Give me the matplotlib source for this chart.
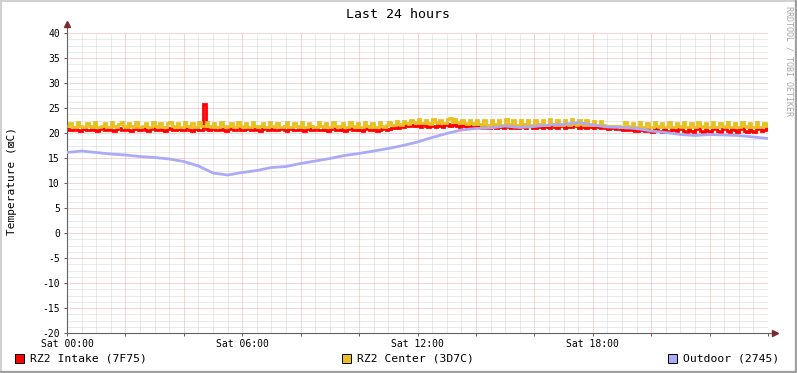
import numpy as np
import matplotlib
matplotlib.use("Agg")
import matplotlib.pyplot as plt
from matplotlib.patches import Rectangle
from matplotlib.lines import Line2D

# ========================
# === DATI ===============
# ========================

# campioni ogni 5 minuti, 24 per riga = 2 ore
intake = [
    20.9, 20.6, 20.6, 21.0, 20.7, 20.5, 20.8, 21.0, 20.6, 20.6, 20.9, 20.7, 20.5, 20.8, 21.0, 20.7, 20.6, 20.9, 20.6, 20.5, 20.8, 21.0, 20.6, 20.7,
    20.9, 20.6, 20.5, 20.9, 21.0, 20.6, 20.7, 21.0, 20.6, 20.5, 20.8, 21.0, 20.7, 20.6, 20.9, 20.6, 20.5, 20.8, 21.0, 20.7, 20.6, 20.9, 21.0, 20.6,
    20.7, 21.0, 20.6, 20.5, 20.9, 21.0, 20.7, 20.6, 25.8, 20.9, 20.6, 20.8, 21.0, 20.6, 20.6, 20.9, 20.7, 20.5, 20.8, 21.0, 20.6, 20.7, 21.0, 20.6,
    20.6, 20.9, 21.0, 20.6, 20.7, 20.9, 20.6, 20.5, 20.8, 21.0, 20.7, 20.6, 20.9, 20.6, 20.6, 20.9, 21.0, 20.6, 20.5, 20.8, 21.0, 20.7, 20.6, 20.9,
    20.6, 20.5, 20.9, 21.0, 20.6, 20.7, 21.0, 20.6, 20.6, 20.9, 20.7, 20.5, 20.8, 21.0, 20.6, 20.7, 20.9, 20.6, 20.5, 20.8, 21.0, 20.7, 20.6, 20.9,
    20.6, 20.5, 20.9, 21.0, 20.6, 20.7, 20.9, 20.5, 20.6, 20.9, 21.0, 20.7, 20.8, 21.1, 21.0, 21.2, 21.1, 21.4, 21.3, 21.6, 21.4, 21.7, 21.5, 21.4,
    21.6, 21.3, 21.8, 21.5, 21.2, 21.7, 21.4, 21.3, 21.8, 21.5, 21.3, 21.7, 21.9, 21.4, 21.6, 21.8, 21.5, 21.3, 21.7, 21.4, 21.2, 21.6, 21.3, 21.2,
    21.6, 21.2, 21.0, 21.5, 21.1, 21.0, 21.6, 21.2, 21.0, 21.5, 21.3, 21.0, 21.6, 21.2, 21.1, 21.5, 21.0, 21.1, 21.6, 21.3, 21.0, 21.4, 21.5, 21.1,
    21.0, 21.6, 21.2, 21.1, 21.5, 21.3, 21.0, 21.6, 21.2, 21.1, 21.5, 21.4, 21.1, 21.6, 21.3, 21.2, 21.7, 21.4, 21.1, 21.5, 21.3, 21.1, 21.6, 21.2,
    21.1, 21.5, 21.2, 21.0, 21.4, 21.1, 20.9, 21.3, 21.0, 20.9, 21.2, 20.8, 20.7, 20.7, 20.6, 20.9, 20.6, 20.5, 20.5, 21.0, 20.6, 20.4, 20.9, 20.5,
    20.3, 20.8, 21.1, 20.5, 20.3, 20.9, 20.5, 20.3, 21.0, 20.6, 20.4, 20.9, 21.1, 20.5, 20.3, 20.8, 20.5, 20.3, 20.9, 21.0, 20.5, 20.3, 20.8, 20.5,
    20.3, 20.9, 21.0, 20.4, 20.3, 20.8, 21.1, 20.5, 20.3, 20.9, 20.6, 20.3, 20.8, 21.1, 20.5, 20.3, 20.9, 20.5, 20.3, 20.8, 21.0, 20.4, 20.6, 21.0,
]

center = [
    21.4, 22.1, 21.3, 21.3, 22.2, 21.4, 21.2, 21.3, 22.1, 21.4, 21.3, 22.2, 21.3, 21.2, 21.4, 22.1, 21.3, 21.3, 22.2, 21.4, 21.3, 21.9, 22.2, 21.4,
    21.3, 22.1, 21.4, 21.2, 22.2, 21.3, 21.3, 21.4, 22.1, 21.3, 21.2, 22.2, 21.4, 21.3, 22.0, 21.3, 21.2, 22.1, 22.2, 21.4, 21.3, 22.1, 21.3, 21.2,
    22.2, 21.4, 21.3, 22.1, 21.3, 21.2, 22.2, 21.4, 21.5, 22.3, 21.4, 21.3, 22.1, 21.3, 21.2, 22.2, 21.4, 21.3, 21.4, 22.1, 21.3, 21.2, 22.2, 21.4,
    21.3, 22.1, 21.3, 21.2, 22.2, 21.4, 21.3, 21.4, 22.1, 21.3, 21.2, 22.2, 21.4, 21.3, 22.1, 21.3, 21.2, 21.4, 22.2, 21.3, 21.3, 22.1, 21.4, 21.2,
    22.2, 21.3, 21.3, 22.1, 21.4, 21.2, 21.3, 22.2, 21.4, 21.3, 22.1, 21.3, 21.2, 22.2, 21.4, 21.3, 21.4, 22.1, 21.3, 21.2, 22.2, 21.4, 21.3, 22.1,
    21.3, 21.2, 22.2, 21.4, 21.3, 22.1, 21.3, 21.2, 22.2, 21.4, 21.3, 21.6, 22.3, 21.7, 21.6, 22.4, 21.8, 21.7, 22.5, 22.0, 21.9, 22.7, 22.2, 22.0,
    22.8, 22.1, 22.0, 22.7, 22.1, 21.9, 22.8, 22.2, 22.0, 22.7, 22.1, 22.0, 22.9, 23.1, 22.3, 22.9, 22.2, 22.0, 22.7, 22.1, 21.9, 22.6, 22.0, 21.8,
    22.7, 21.8, 21.6, 22.6, 21.7, 21.6, 22.7, 21.8, 21.6, 22.6, 21.7, 21.6, 22.8, 21.8, 21.6, 22.7, 21.7, 21.6, 22.6, 21.8, 21.6, 22.7, 21.7, 21.6,
    22.6, 21.8, 21.6, 22.7, 21.7, 21.6, 22.8, 21.8, 21.6, 22.6, 21.7, 21.7, 22.7, 21.8, 21.6, 22.8, 21.8, 21.7, 22.7, 21.8, 21.6, 22.6, 21.7, 21.6,
    22.5, 21.7, 21.6, 22.4, 21.6, 21.5, 21.5, 21.5, 21.4, 21.4, 21.4, 21.3, 21.3, 22.2, 21.4, 21.3, 22.1, 21.3, 21.2, 22.2, 21.3, 21.3, 22.1, 21.3,
    21.2, 22.2, 21.4, 21.3, 22.1, 21.3, 21.2, 22.2, 21.3, 21.3, 22.1, 21.4, 21.2, 22.2, 21.3, 21.3, 22.1, 21.3, 21.2, 22.2, 21.4, 21.3, 22.1, 21.3,
    21.2, 22.2, 21.3, 21.3, 22.1, 21.4, 21.2, 22.2, 21.3, 21.3, 22.1, 21.3, 21.2, 22.2, 21.4, 21.3, 22.1, 21.3, 21.2, 22.2, 21.3, 21.3, 22.0, 21.4,
]

# esterno: un valore ogni 30 minuti
outdoor = [16.1, 16.4, 16.1, 15.8, 15.6, 15.3, 15.1, 14.8, 14.3, 13.4,
           12.0, 11.6, 12.1, 12.5, 13.1, 13.3, 13.9, 14.4, 14.9, 15.5,
           15.9, 16.4, 16.9, 17.5, 18.2, 19.1, 19.9, 20.6, 20.9, 21.0,
           21.4, 21.1, 21.3, 21.6, 21.7, 22.1, 21.6, 21.2, 21.1, 20.9,
           20.4, 20.1, 19.7, 19.5, 19.7, 19.6, 19.5, 19.2, 18.9]

xtick_hours = [0, 6, 12, 18]
xtick_labels = ["Sat 00:00", "Sat 06:00", "Sat 12:00", "Sat 18:00"]
yticks = list(range(-20, 41, 5))
legend_labels = ["RZ2 Intake (7F75)", "RZ2 Center (3D7C)", "Outdoor (2745)"]

c_intake = "#FF0000"
c_center = "#E8C020"
c_outdoor = "#AAAAF5"

# ========================
# === FIGURA =============
# ========================

W, H = 797, 373
mono = "DejaVu Sans Mono"
plt.rcParams["font.family"] = mono

fig = plt.figure(figsize=(W / 100, H / 100), dpi=100, facecolor="white")

def fx(px):
    return px / W

def fy(py):
    return 1 - py / H

ax = fig.add_axes([fx(67), fy(333), fx(768) - fx(67), fy(33) - fy(333)])
ax.set_xlim(0, 24)
ax.set_ylim(-20, 40)

# griglia puntinata
gkw = dict(lw=0.72, ls=(0, (1, 1)))
for h in np.arange(0, 24.01, 0.5):
    if h % 2 == 0:
        continue
    ax.axvline(h, color="#D6D6D6", zorder=0, **gkw)
for v in np.arange(-20, 40.01, 1.25):
    if v % 5 == 0:
        continue
    ax.axhline(v, color="#D6D6D6", zorder=0, **gkw)
for h in range(2, 25, 2):
    ax.axvline(h, color="#F0A8A8", zorder=0.5, **gkw)
for v in yticks[1:]:
    ax.axhline(v, color="#F0A8A8", zorder=0.5, **gkw)

# serie
edges = np.arange(len(intake) + 1) * 5 / 60
ax.stairs(intake, edges, baseline=None, color=c_intake, lw=2.0, zorder=2)
ax.stairs(center, edges, baseline=None, color=c_center, lw=2.0, zorder=3)
t_out = np.arange(len(outdoor)) * 0.5
ax.plot(t_out, outdoor, color=c_outdoor, lw=2.0, zorder=4)

# assi
for s in ax.spines.values():
    s.set_visible(False)
axc = "#7A2A2A"
ax.add_line(Line2D([0, 0], [0, 1.025], transform=ax.transAxes, color="#606060", lw=0.8, clip_on=False))
ax.add_line(Line2D([0, 1.008], [0, 0], transform=ax.transAxes, color="#606060", lw=0.8, clip_on=False))
ax.plot([0], [1.03], marker="^", color=axc, ms=4, transform=ax.transAxes, clip_on=False)
ax.plot([1.01], [0], marker=">", color=axc, ms=4, transform=ax.transAxes, clip_on=False)

ax.set_yticks(yticks)
ax.set_yticklabels([str(v) for v in yticks], fontsize=7)
ax.set_xticks(xtick_hours)
ax.set_xticklabels(xtick_labels, fontsize=7)
ax.set_xticks(range(0, 25, 2), minor=True)
ax.tick_params(axis="both", which="both", length=2.5, width=0.7, color="#606060", pad=1.5, direction="out")
ax.tick_params(axis="y", pad=2.5)
ax.set_facecolor("white")

# testi
fig.text(fx(398), fy(14), "Last 24 hours", ha="center", va="center", fontsize=9.5)
fig.text(fx(12), fy(181), "Temperature (\u22a0C)", rotation=90, ha="center", va="center", fontsize=8)
fig.text(fx(789), fy(6), "RRDTOOL / TOBI OETIKER", rotation=270, ha="center", va="top",
         fontsize=6, color="#A8A8A8")

# legenda
leg_x = [15, 342, 668]
for x0, lab, col in zip(leg_x, legend_labels, [c_intake, c_center, c_outdoor]):
    fig.add_artist(Rectangle((fx(x0), fy(363)), fx(9), 9 / H, transform=fig.transFigure,
                             facecolor=col, edgecolor="black", lw=0.7))
    fig.text(fx(x0 + 15), fy(358.5), lab, ha="left", va="center", fontsize=8.2)

# cornice
fig.add_artist(Line2D([fx(0.5), fx(0.5)], [0, 1], transform=fig.transFigure, color="#D0D0D0", lw=1.4))
fig.add_artist(Line2D([0, 1], [fy(0.5), fy(0.5)], transform=fig.transFigure, color="#D0D0D0", lw=1.4))
fig.add_artist(Line2D([fx(795.5), fx(795.5)], [0, 1], transform=fig.transFigure, color="#A0A0A0", lw=2.4))
fig.add_artist(Line2D([0, 1], [fy(371.5), fy(371.5)], transform=fig.transFigure, color="#A0A0A0", lw=2.4))

fig.savefig("out.png", dpi=100, facecolor="white")
